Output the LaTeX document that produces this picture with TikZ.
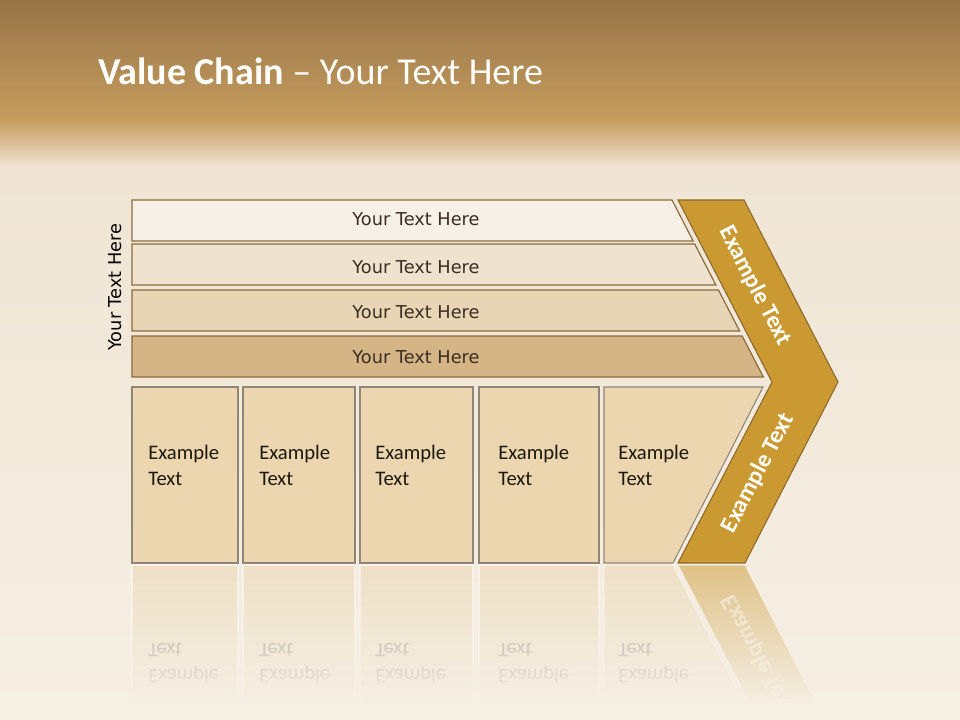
\documentclass[tikz,border=0pt]{standalone}
\usepackage{fontspec}
\setmainfont{Carlito}
\newfontfamily\barfont{DejaVu Sans}
\usetikzlibrary{fadings}
\definecolor{chainbrown}{RGB}{139,107,62}
\definecolor{chaingold}{RGB}{203,153,50}
\definecolor{chainedge}{RGB}{140,105,45}
\definecolor{boxfill}{RGB}{235,214,175}
\definecolor{boxedge}{RGB}{143,133,120}
\definecolor{bgtop}{RGB}{151,116,71}
\definecolor{bgband}{RGB}{198,157,95}
\definecolor{bgcream}{RGB}{240,229,212}
\definecolor{bglow}{RGB}{246,239,228}
\definecolor{bartext}{RGB}{58,46,34}
\definecolor{celltext}{RGB}{30,25,15}
\definecolor{barA}{RGB}{247,240,230}
\definecolor{barB}{RGB}{239,227,207}
\definecolor{barC}{RGB}{232,213,181}
\definecolor{barD}{RGB}{213,180,134}

\begin{document}
\begin{tikzpicture}[x=0.75pt, y=-0.75pt,
    bar/.style={draw=chainbrown, line width=0.9pt},
    cell/.style={draw=boxedge, fill=boxfill, line width=0.8pt},
    arm/.style={draw=chainedge, fill=chaingold, line width=0.8pt},
    bartxt/.style={font=\barfont\fontsize{13.3}{16}\selectfont, text=bartext},
    celltxt/.style={font=\fontsize{15.5}{19.5}\selectfont, text=celltext, align=left, anchor=base west, inner sep=0pt},
    armtxt/.style={font=\bfseries\fontsize{18}{22}\selectfont, text=white}
]
\useasboundingbox (0,0) rectangle (960,720);
\clip (0,0) rectangle (960,720);
\shade[top color=bgtop, bottom color=bgband] (0,0) rectangle (960,121);
\shade[top color=bgband, bottom color=bgcream] (0,120) rectangle (960,168);
\shade[top color=bgcream, bottom color=bglow] (0,167) rectangle (960,720);

\node[anchor=base west, inner sep=0pt, text=white, font=\fontsize{28.5}{34}\selectfont] (title) at (98,85) {\textbf{Value Chain} – Your Text Here};

\foreach \t/\c/\ty [count=\i] in {200/barA/219.5, 244/barB/267.5, 290/barC/312.5, 336/barD/357.5} {
  \draw[bar, fill=\c] (132,\t) -- ({672+0.516*(\t-200)},\t) -- ({672+0.516*(\t+41-200)},\t+41) -- (132,\t+41) -- cycle;
  \node[bartxt] (bar\i) at (416,\ty) {Your Text Here};
}
\node[bartxt, text=black, rotate=90] (side) at (115,287) {Your Text Here};

\draw[arm] (678,200) -- (744,200) -- (838,382) -- (745,563) -- (678,563) -- (772,382) -- cycle;
\node[armtxt, rotate=-62.6] (armup) at (755,286) {Example Text};
\node[armtxt, rotate=62.6] (armdown) at (758,473) {Example Text};

\foreach \l/\r/\tx [count=\i] in {132/238/148, 243/355/259, 360/473/375, 479/599/498} {
  \draw[cell] (\l,387) rectangle (\r,563);
  \node[celltxt] (cell\i) at (\tx,485) {Example\\Text};
}
\draw[cell] (604,387) -- (763,387) -- (673,563) -- (604,563) -- cycle;
\node[celltxt] (cell5) at (618,485) {Example\\Text};

\begin{scope}[opacity=0.5]
\foreach \l/\r/\tx in {132/238/148, 243/355/259, 360/473/375, 479/599/498} {
  \draw[cell, draw=white] (\l,565) rectangle (\r,741);
  \node[celltxt, text=black!70, yscale=-1] at (\tx,643) {Example\\Text};
}
\draw[cell, draw=white] (604,565) -- (673,565) -- (763,741) -- (604,741) -- cycle;
\node[celltxt, text=black!70, yscale=-1] at (618,643) {Example\\Text};
\draw[arm, draw=white] (678,565) -- (745,565) -- (838,746) -- (772,746) -- cycle;
\node[armtxt, rotate=-62.6, yscale=-1] at (758,655) {Example Text};
\end{scope}
\fill[bglow, path fading=north] (0,566) rectangle (960,705);
\fill[bglow] (0,704) rectangle (960,720);
\end{tikzpicture}
\end{document}
